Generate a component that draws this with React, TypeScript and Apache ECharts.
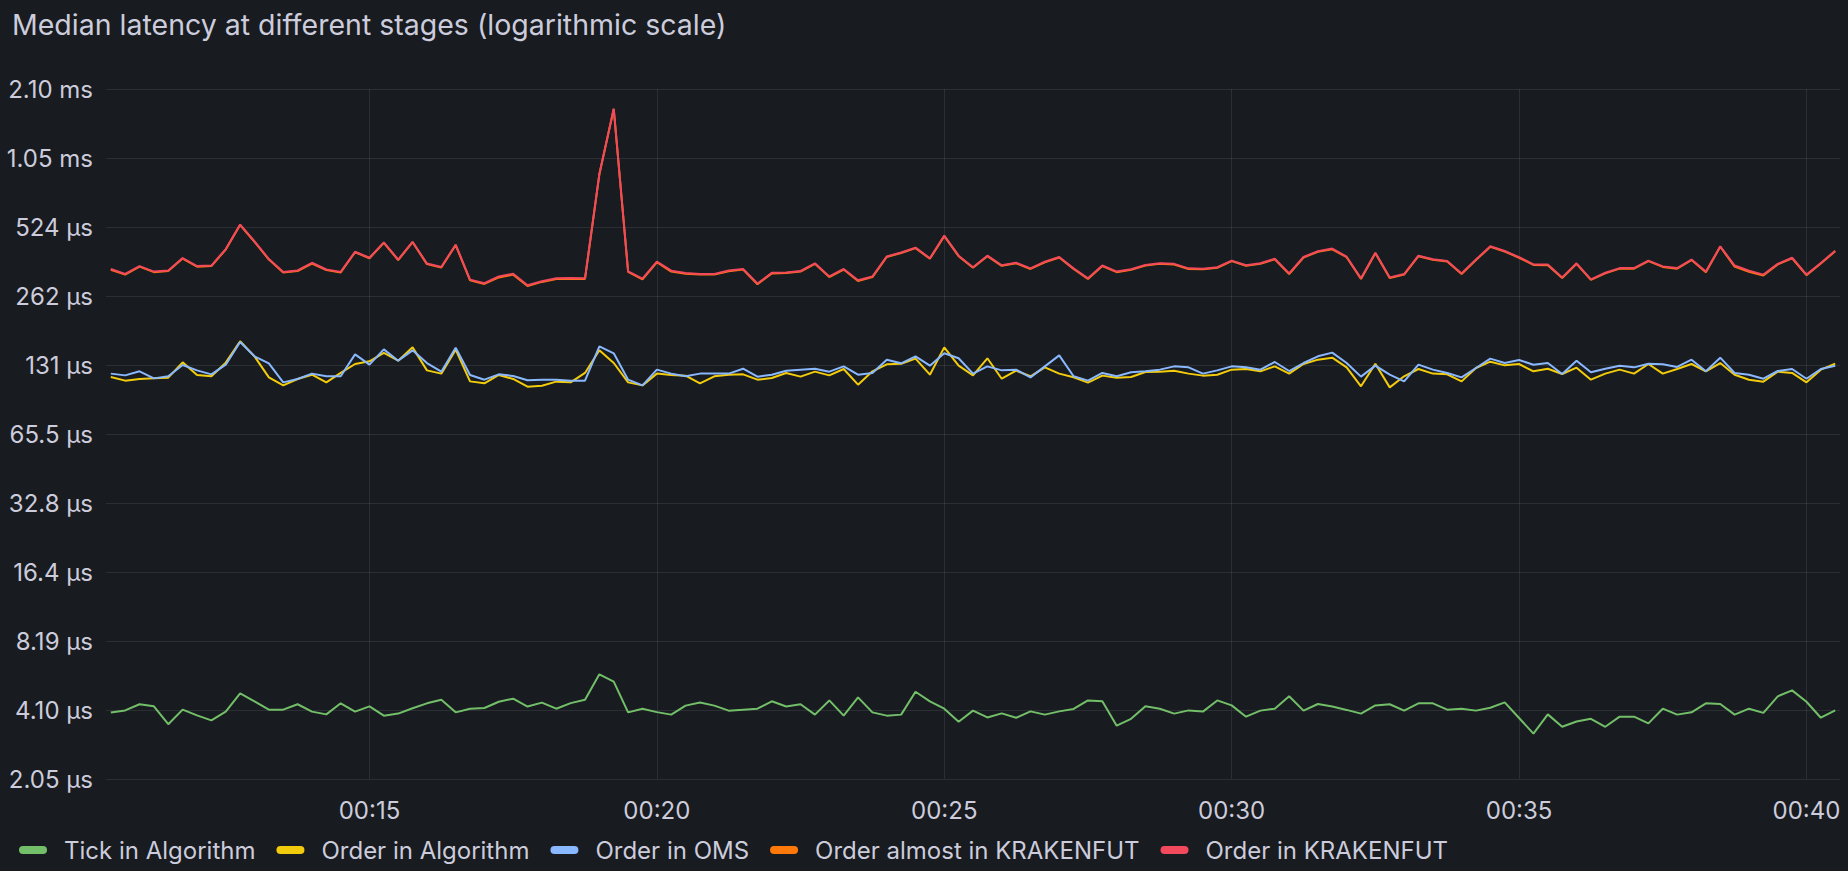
import React, { useEffect, useRef } from "react";
import * as echarts from "echarts";

// ---- data (values in microseconds, one sample every 15 s starting 00:10:30) ----
// x positions are seconds since 00:00:00
const FIRST_SAMPLE_S = 630; // 00:10:30
const STEP_S = 15;
const X_MIN_S = 625; // 00:10:25
const X_MAX_S = 2435; // 00:40:35

const seriesNames = [
  "Tick in Algorithm",
  "Order in Algorithm",
  "Order in OMS",
  "Order almost in KRAKENFUT",
  "Order in KRAKENFUT",
];
const seriesColors = ["#73BF69", "#F2CC0C", "#8AB8FF", "#FF780A", "#F2495C"];

const tickInAlgorithm = [
  3.99, 4.08, 4.34, 4.25, 3.55, 4.11, 3.88, 3.69, 4.03, 4.84, 4.47, 4.11, 4.11, 4.34, 4.03, 3.92, 4.38, 4.03, 4.25, 3.87,
  3.95, 4.17, 4.38, 4.54, 4.0, 4.15, 4.18, 4.45, 4.59, 4.24, 4.41, 4.15, 4.39, 4.54, 5.86, 5.45, 4.0, 4.15, 4.01, 3.91,
  4.28, 4.42, 4.28, 4.07, 4.11, 4.15, 4.47, 4.24, 4.34, 3.91, 4.51, 3.87, 4.65, 4.0, 3.87, 3.91, 4.92, 4.47, 4.15, 3.64,
  4.07, 3.8, 3.96, 3.79, 4.04, 3.91, 4.04, 4.14, 4.51, 4.47, 3.5, 3.75, 4.25, 4.15, 3.95, 4.08, 4.03, 4.51, 4.29, 3.83,
  4.07, 4.15, 4.7, 4.07, 4.35, 4.24, 4.1, 3.95, 4.29, 4.34, 4.07, 4.38, 4.38, 4.11, 4.15, 4.07, 4.19, 4.42, 3.78, 3.23,
  3.92, 3.46, 3.65, 3.75, 3.46, 3.83, 3.83, 3.58, 4.15, 3.91, 4.0, 4.38, 4.35, 3.91, 4.15, 3.98, 4.7, 4.99, 4.45, 3.79,
  4.08,
];

const orderInAlgorithm = [
  116.2, 112.0, 113.9, 114.6, 115.4, 134.6, 118.6, 117.0, 134.2, 166.3, 143.0, 115.8, 106.8, 113.9, 118.9, 110.1, 121.0,
  132.4, 136.0, 147.9, 136.9, 156.5, 124.2, 120.2, 152.9, 111.2, 109.0, 118.6, 113.9, 105.4, 106.5, 110.9, 110.1, 121.0,
  151.9, 133.7, 110.1, 106.8, 120.2, 118.6, 117.8, 109.0, 117.0, 118.9, 119.3, 113.1, 115.0, 121.0, 116.6, 122.6, 118.1,
  125.9, 107.6, 123.0, 132.0, 132.8, 139.7, 118.9, 156.5, 130.2, 118.1, 140.2, 114.2, 123.8, 117.0, 128.0, 120.2, 115.8,
  109.8, 117.8, 115.4, 116.2, 122.2, 122.6, 123.8, 120.2, 117.8, 118.9, 125.1, 125.9, 123.0, 129.3, 120.2, 132.4, 138.3,
  141.1, 128.0, 105.8, 132.8, 104.7, 117.0, 125.9, 120.2, 119.3, 111.2, 127.2, 135.5, 130.6, 132.4, 123.0, 126.3, 119.7,
  127.6, 113.1, 120.2, 125.1, 120.2, 132.4, 120.2, 125.9, 132.4, 123.0, 133.7, 118.9, 113.1, 110.9, 122.6, 121.0, 110.1,
  125.1, 132.8,
];

const orderInOMS = [
  120.2, 118.1, 123.0, 114.6, 117.0, 131.1, 124.2, 119.3, 131.5, 165.1, 143.0, 133.3, 110.1, 113.9, 120.2, 117.0, 117.0,
  145.9, 131.5, 153.4, 136.9, 151.9, 133.7, 122.6, 156.0, 118.6, 113.1, 119.3, 117.4, 112.4, 113.1, 113.1, 112.0, 112.0,
  158.1, 147.4, 113.1, 106.8, 125.1, 120.2, 117.0, 120.2, 120.2, 120.2, 126.3, 116.6, 118.9, 123.8, 125.1, 126.3, 122.6,
  129.3, 118.9, 121.0, 138.3, 133.3, 143.0, 130.2, 147.4, 140.2, 120.2, 129.3, 124.2, 125.1, 115.8, 129.3, 144.4, 117.0,
  112.0, 121.0, 117.0, 121.8, 123.0, 125.1, 129.3, 128.0, 120.2, 124.2, 129.3, 128.0, 125.1, 135.1, 123.4, 133.7, 143.0,
  148.4, 133.7, 116.6, 130.2, 118.9, 111.2, 131.5, 125.1, 121.0, 115.8, 127.2, 139.7, 133.7, 137.8, 131.5, 133.7, 119.7,
  136.9, 121.8, 126.3, 130.2, 128.0, 132.8, 132.0, 128.5, 138.3, 123.0, 141.1, 121.0, 118.9, 114.2, 123.4, 125.9, 114.2,
  125.9, 130.2,
];

const orderAlmostInKrakenfut = [
  341, 325, 352, 333, 337, 382, 352, 354, 418, 535, 452, 378, 332, 337, 363, 340, 332, 407, 383, 447, 376, 450, 361, 349,
  437, 307, 296, 316, 325, 290, 302, 311, 312, 311, 890, 1715, 334, 310, 368, 335, 328, 325, 325, 336, 342, 295, 329, 330,
  335, 362, 317, 342, 305, 317, 388, 404, 424, 381, 478, 391, 348, 391, 355, 364, 344, 368, 386, 344, 311, 354, 333, 341,
  356, 362, 360, 344, 343, 348, 372, 355, 362, 379, 327, 386, 409, 419, 387, 311, 403, 314, 325, 391, 377, 371, 327, 376,
  430, 410, 385, 358, 357, 314, 362, 308, 329, 345, 345, 372, 351, 345, 376, 333, 430, 352, 334, 322, 360, 383, 323, 363,
  411,
];

const orderInKrakenfut = [
  344, 327, 354, 335, 339, 384, 354, 356, 420, 537, 454, 380, 334, 339, 366, 342, 334, 409, 385, 449, 378, 452, 363, 351,
  439, 309, 298, 319, 328, 292, 304, 313, 314, 313, 893, 1721, 336, 312, 370, 338, 330, 327, 327, 339, 344, 297, 331, 332,
  337, 364, 319, 344, 307, 319, 390, 406, 426, 383, 481, 393, 350, 393, 357, 366, 346, 370, 388, 346, 313, 356, 335, 343,
  358, 364, 362, 346, 345, 350, 374, 357, 364, 381, 329, 388, 411, 422, 389, 313, 405, 316, 327, 393, 379, 373, 329, 378,
  432, 412, 387, 360, 360, 316, 364, 310, 331, 347, 347, 374, 353, 347, 378, 335, 432, 356, 338, 325, 362, 385, 325, 365,
  413,
];

// y axis: log base 2, ticks at 2^11 .. 2^21 nanoseconds
const yTickLabels = [
  "2.05 µs",
  "4.10 µs",
  "8.19 µs",
  "16.4 µs",
  "32.8 µs",
  "65.5 µs",
  "131 µs",
  "262 µs",
  "524 µs",
  "1.05 ms",
  "2.10 ms",
];
const Y_MIN_EXP = 11;
const Y_MAX_EXP = 21;

const xTickLabels = ["00:15", "00:20", "00:25", "00:30", "00:35", "00:40"];

const allSeries = [tickInAlgorithm, orderInAlgorithm, orderInOMS, orderAlmostInKrakenfut, orderInKrakenfut];

const TEXT = "#ccccdc";
const GRID = "rgba(240,250,255,0.09)";
const FONT = "Inter";

const pad = (n: number) => (n < 10 ? "0" + n : "" + n);
const labelToSeconds = (s: string) => {
  const [h, m] = s.split(":").map(Number);
  return h * 3600 + m * 60;
};
const secondsToLabel = (v: number) => pad(Math.floor(v / 3600)) + ":" + pad(Math.floor((v % 3600) / 60));

export default function App() {
  const ref = useRef<HTMLDivElement>(null);

  useEffect(() => {
    document.body.style.margin = "0";
    document.body.style.background = "#181b1f";
    if (!ref.current) return;
    const chart = echarts.init(ref.current, undefined, { renderer: "svg" });

    const xTickValues = xTickLabels.map(labelToSeconds);

    const series = allSeries.map((vals, si) => ({
      name: seriesNames[si],
      type: "line" as const,
      showSymbol: false,
      symbol: "none",
      color: seriesColors[si],
      lineStyle: { width: 2, color: seriesColors[si] },
      emphasis: { disabled: true },
      data: vals.map((v, i) => [FIRST_SAMPLE_S + i * STEP_S, Math.log2(v * 1000)]),
      z: 2 + si,
    }));

    chart.setOption({
      animation: false,
      backgroundColor: "#181b1f",
      textStyle: { fontFamily: FONT },
      title: {
        text: "Median latency at different stages (logarithmic scale)",
        left: 12,
        top: 10,
        padding: 0,
        textStyle: { color: TEXT, fontSize: 28.5, fontWeight: 400, fontFamily: FONT },
      },
      legend: {
        left: 19,
        top: 838,
        padding: 0,
        itemGap: 21,
        itemWidth: 28,
        itemHeight: 8,
        icon: "path://M4,0 H24 A4,4 0 0 1 24,8 H4 A4,4 0 0 1 4,0 Z",
        data: seriesNames,
        textStyle: { color: TEXT, fontSize: 24, fontFamily: FONT, padding: [0, 0, 0, 12] },
        selectedMode: false,
      },
      grid: {
        left: 106,
        right: 8,
        top: 89,
        bottom: 92,
        containLabel: false,
        outerBoundsMode: "none",
      },
      xAxis: {
        type: "value",
        min: X_MIN_S,
        max: X_MAX_S,
        axisLine: { show: false },
        axisTick: { show: false, customValues: xTickValues },
        splitLine: { show: true, lineStyle: { color: GRID, width: 1 } },
        axisLabel: {
          customValues: xTickValues,
          color: TEXT,
          fontSize: 24,
          fontFamily: FONT,
          margin: 19,
          hideOverlap: false,
          formatter: (v: number) => secondsToLabel(v),
        },
      },
      yAxis: {
        type: "value",
        min: Y_MIN_EXP,
        max: Y_MAX_EXP,
        interval: 1,
        axisLine: { show: false },
        axisTick: { show: false },
        splitLine: { show: true, lineStyle: { color: GRID, width: 1 } },
        axisLabel: {
          color: TEXT,
          fontSize: 24,
          fontFamily: FONT,
          margin: 13,
          formatter: (v: number) => yTickLabels[Math.round(v) - Y_MIN_EXP] ?? "",
        },
      },
      series,
    });

    return () => chart.dispose();
  }, []);

  return <div ref={ref} style={{ width: 1848, height: 871, background: "#181b1f" }} />;
}
